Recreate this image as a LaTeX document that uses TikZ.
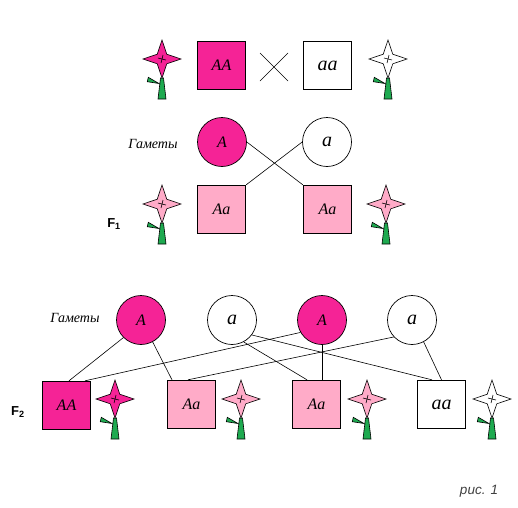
\documentclass[tikz,border=0pt]{standalone}
\usepackage{fontspec}
\setmainfont{Liberation Serif}
\setsansfont{Liberation Sans}
\definecolor{deeppink}{RGB}{245, 35, 150}
\definecolor{softpink}{RGB}{255, 171, 200}
\definecolor{stemgreen}{RGB}{30, 170, 80}
\tikzset{
  genotype/.style={draw=black, line width=0.9pt, minimum size=48.5pt, inner sep=0pt, font=\itshape\fontsize{16}{16}\selectfont},
  gamete/.style={circle, draw=black, line width=0.7pt, minimum size=49pt, inner sep=0pt, font=\itshape\fontsize{16}{16}\selectfont},
  bigletter/.style={font=\itshape\fontsize{20}{20}\selectfont},
  gen/.style={font=\sffamily\bfseries\fontsize{13}{13}\selectfont},
  caption/.style={font=\itshape\fontsize{14}{14}\selectfont},
  link/.style={draw=black, line width=0.6pt},
  flower/.pic={
    \fill[stemgreen, draw=black, line width=0.6pt] (-1.5,19) -- (1.5,19) -- (4,40) -- (-4,40) -- cycle;
    \fill[stemgreen, draw=black, line width=0.6pt] (-13.7,18.3) -- (-3,24.5) -- (-14.7,22.7) -- cycle;
    \filldraw[fill=#1, draw=black, line width=0.6pt] (0,-19) -- (4.8,-4.8) -- (19,0) -- (4.8,4.8) -- (0,19) -- (-4.8,4.8) -- (-19,0) -- (-4.8,-4.8) -- cycle;
    \draw[line width=0.6pt] (-4,-1) -- (4,1) (1,-4) -- (-1,4);
  }
}
\begin{document}
\begin{tikzpicture}[x=1pt, y=-1pt]
  \useasboundingbox (0,0) rectangle (518,507);
  % parents
  \pic at (162,59) {flower=deeppink};
  \node[genotype, fill=deeppink] (pAA) at (221.5,65.5) {AA};
  \node[genotype, bigletter] (paa) at (327.5,65.5) {aa};
  \pic at (388,59) {flower=white};
  \coordinate (crossa) at (260,53);
  \coordinate (crossb) at (288,81);
  \coordinate (crossc) at (288,53);
  \coordinate (crossd) at (260,81);
  \draw[link] (crossa) -- (crossb) (crossc) -- (crossd);
  % F1
  \node[caption] (gamF1) at (153,144) {Гаметы};
  \node[gamete, fill=deeppink] (gA) at (222,142) {A};
  \node[gamete, bigletter] (ga) at (327,142) {a};
  \node[genotype, fill=softpink] (fAa) at (221.5,209.5) {Aa};
  \node[genotype, fill=softpink] (faA) at (327.5,209.5) {Aa};
  \pic at (162,204) {flower=softpink};
  \pic at (386,204) {flower=softpink};
  \node[gen] (lblF1) at (114,224) {F\textsubscript{1}};
  \draw[link] (gA.0) -- (faA.north west);
  \draw[link] (ga.180) -- (fAa.north east);
  % F2
  \node[caption] (gamF2) at (75,318) {Гаметы};
  \node[gamete, fill=deeppink] (hA) at (141,320) {A};
  \node[gamete, bigletter] (ha) at (232,320) {a};
  \node[gamete, fill=deeppink] (kA) at (322,320) {A};
  \node[gamete, bigletter] (ka) at (412,320) {a};
  \node[genotype, fill=deeppink] (rAA) at (66.5,405.5) {AA};
  \node[genotype, fill=softpink] (rAa) at (191.5,404.5) {Aa};
  \node[genotype, fill=softpink] (raA) at (316.5,404.5) {Aa};
  \node[genotype, bigletter] (raa) at (441.5,404.5) {aa};
  \pic at (115,399) {flower=deeppink};
  \pic at (241,399) {flower=softpink};
  \pic at (367,399) {flower=softpink};
  \pic at (492,399) {flower=white};
  \node[gen] (lblF2) at (18,412) {F\textsubscript{2}};
  \draw[link] (hA.225) -- ([xshift=2.5pt]rAA.north);
  \draw[link] (hA.-62) -- ([xshift=-19.5pt]rAa.north);
  \draw[link] (kA.210) -- ([xshift=18.5pt]rAA.north);
  \draw[link] (ka.223) -- ([xshift=-3.5pt]rAa.north);
  \draw[link] (ha.-62) -- ([xshift=-9.5pt]raA.north);
  \draw[link] (ha.-37) -- ([xshift=-9.5pt]raa.north);
  \draw[link] (kA.south) -- ([xshift=5.5pt]raA.north);
  \draw[link] (ka.-62) -- (raa.north);
  \node[caption, font=\sffamily\itshape\fontsize{13.5}{13.5}\selectfont, text=black!75] (fig) at (479,491) {рис. 1};
\end{tikzpicture}
\end{document}
